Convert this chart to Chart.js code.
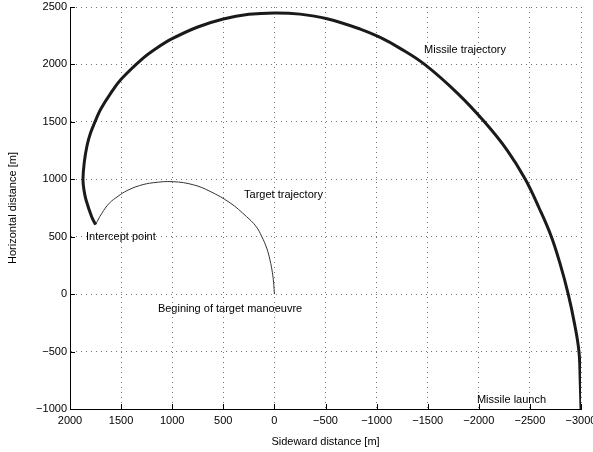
<!DOCTYPE html>
<html>
<head>
<meta charset="utf-8">
<script src="https://cdn.jsdelivr.net/npm/chart.js@4"></script>
<style>
  html, body { margin: 0; padding: 0; background: #fff; }
  #wrap { width: 593px; height: 452px; }
</style>
</head>
<body>
<div id="wrap"><canvas id="chart" width="593" height="452"></canvas></div>
<script>
// missile path, from launch to intercept
const missileX = [-3000, -2992, -2980, -2935, -2875, -2800, -2710, -2590, -2455, -2280, -2055, -1790, -1470, -1230, -1030, -840, -515, -250, 0, 250, 500, 750, 1000, 1150, 1290, 1500, 1609, 1700, 1746, 1800, 1834, 1860, 1873, 1862, 1843, 1788, 1750]
const missileY = [-1000, -750, -500, -250, 0, 250, 500, 750, 1000, 1250, 1500, 1750, 2000, 2140, 2237, 2308, 2398, 2438, 2448, 2436, 2396, 2326, 2224, 2143, 2050, 1870, 1740, 1610, 1520, 1400, 1290, 1150, 1000, 900, 820, 674, 605]

// target path, from start of manoeuvre to intercept
const targetX = [0, 8, 20, 43, 75, 124, 180, 274, 434, 630, 793, 990, 1185, 1320, 1445, 1530, 1615, 1690, 1750]
const targetY = [0, 100, 190, 296, 400, 502, 590, 676, 795, 895, 952, 979, 970, 945, 900, 852, 792, 702, 605]

const xTicks = [2000, 1500, 1000, 500, 0, -500, -1000, -1500, -2000, -2500, -3000]
const yTicks = [-1000, -500, 0, 500, 1000, 1500, 2000, 2500]

// text notes in data coordinates (left edge, middle)
const noteText = ['Missile trajectory', 'Target trajectory', 'Intercept point', 'Begining of target manoeuvre', 'Missile launch']
const noteX = [-1464, 297, 1843, 1140, -1982]
const noteY = [2125, 863, 498, -130, -921]

const fontFamily = '"Liberation Sans", Arial, Helvetica, sans-serif'
Chart.defaults.font.family = fontFamily
Chart.defaults.font.size = 11
Chart.defaults.color = '#000'

const toPoints = (xs, ys) => xs.map((v, i) => ({ x: v, y: ys[i] }))
const fmt = v => v < 0 ? '\u2212' + Math.abs(v) : String(v)

const innerTicks = {
  id: 'innerTicks',
  afterDraw(chart) {
    const { ctx, chartArea: a, scales: { x, y } } = chart
    ctx.save()
    ctx.strokeStyle = '#000'
    ctx.lineWidth = 1
    ctx.beginPath()
    xTicks.forEach(v => {
      const px = Math.round(x.getPixelForValue(v)) + 0.5
      ctx.moveTo(px, a.bottom)
      ctx.lineTo(px, a.bottom - 5)
    })
    yTicks.forEach(v => {
      const py = Math.round(y.getPixelForValue(v)) + 0.5
      ctx.moveTo(a.left, py)
      ctx.lineTo(a.left + 5, py)
    })
    ctx.stroke()

    ctx.font = '11px ' + fontFamily
    ctx.fillStyle = '#000'
    ctx.textAlign = 'left'
    ctx.textBaseline = 'middle'
    noteText.forEach((t, i) => {
      ctx.fillText(t, x.getPixelForValue(noteX[i]), y.getPixelForValue(noteY[i]))
    })
    ctx.restore()
  }
}

const gridOpts = { color: 'rgba(0,0,0,0.55)', lineWidth: 1, drawTicks: false }
const borderOpts = { display: true, color: '#000', width: 1, dash: [1, 4] }

new Chart(document.getElementById('chart'), {
  type: 'scatter',
  data: {
    datasets: [
      {
        label: 'Missile trajectory',
        data: toPoints(missileX, missileY),
        showLine: true,
        borderColor: '#1a1a1a',
        borderWidth: 3,
        pointRadius: 0,
        tension: 0.4
      },
      {
        label: 'Target trajectory',
        data: toPoints(targetX, targetY),
        showLine: true,
        borderColor: '#333',
        borderWidth: 1,
        pointRadius: 0,
        tension: 0.4
      }
    ]
  },
  options: {
    responsive: false,
    devicePixelRatio: 1,
    animation: false,
    layout: { padding: { top: 7, right: 12, left: 0, bottom: 0 } },
    plugins: {
      legend: { display: false },
      tooltip: { enabled: false }
    },
    scales: {
      x: {
        type: 'linear',
        reverse: true,
        min: -3000,
        max: 2000,
        afterBuildTicks: s => { s.ticks = xTicks.map(v => ({ value: v })) },
        afterFit: s => { s.height = 43; s.paddingLeft = 0; s.paddingRight = 0 },
        ticks: { padding: 5, maxRotation: 0, autoSkip: false, callback: fmt },
        grid: gridOpts,
        border: borderOpts,
        title: { display: true, text: 'Sideward distance [m]', padding: { top: 0, bottom: 3 } }
      },
      y: {
        type: 'linear',
        min: -1000,
        max: 2500,
        afterBuildTicks: s => { s.ticks = yTicks.map(v => ({ value: v })) },
        afterFit: s => { s.width = 70; s.paddingTop = 0; s.paddingBottom = 0 },
        ticks: { padding: 3, autoSkip: false, callback: fmt },
        grid: gridOpts,
        border: borderOpts,
        title: { display: true, text: 'Horizontal distance [m]', padding: { top: 6, bottom: 0 } }
      }
    }
  },
  plugins: [innerTicks]
})
</script>
</body>
</html>
